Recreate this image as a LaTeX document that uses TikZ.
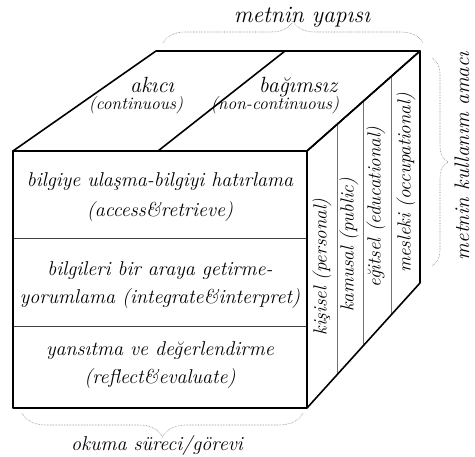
\documentclass[tikz,border=0pt]{standalone}
\usetikzlibrary{decorations.pathreplacing}
\newcommand\myfs[1]{\fontsize{#1}{#1}\selectfont}
\begin{document}
\begin{tikzpicture}[x=1pt,y=-1pt,
  edge/.style={line width=1.6pt, line join=round},
  rowline/.style={line width=0.6pt, black!75},
  strip/.style={line width=0.6pt, black!55},
  lbl/.style={font=\itshape\myfs{20}, inner sep=0pt},
  bracestyle/.style={decorate, decoration={brace, amplitude=#1}, black!55, line width=0.55pt, densely dotted},
]
\useasboundingbox (0,0) rectangle (475,457);
% corners
\coordinate (FTL) at (13,151);
\coordinate (FTR) at (307,151);
\coordinate (FBL) at (13,408);
\coordinate (FBR) at (307,408);
\coordinate (BTL) at (156,51);
\coordinate (BTR) at (420,51);
\coordinate (BBR) at (420,283);
\coordinate (DT) at (285,51);
\coordinate (DB) at (158,151);
\coordinate (R1L) at (13,238);
\coordinate (R1R) at (307,238);
\coordinate (R2L) at (13,326);
\coordinate (R2R) at (307,326);
\coordinate (S1T) at (337,125);
\coordinate (S1B) at (337,375);
\coordinate (S2T) at (363,101);
\coordinate (S2B) at (363,346);
\coordinate (S3T) at (391,77);
\coordinate (S3B) at (391,315);
% braces
\coordinate (TB1) at (163,43);
\coordinate (TB2) at (423,43);
\coordinate (RB1) at (432,58);
\coordinate (RB2) at (432,266);
\coordinate (BB1) at (303,413);
\coordinate (BB2) at (22,413);

% cube
\draw[rowline] (R1L) -- (R1R);
\draw[rowline] (R2L) -- (R2R);
\draw[strip] (S1T) -- (S1B);
\draw[strip] (S2T) -- (S2B);
\draw[strip] (S3T) -- (S3B);
\draw[edge] (FTL) -- (BTL) -- (BTR) -- (FTR) -- cycle;
\draw[edge] (FTL) rectangle (FBR);
\draw[edge] (FTR) -- (BTR) -- (BBR) -- (FBR);
\draw[edge] (DB) -- (DT);

\draw[bracestyle=22] (TB1) -- (TB2);
\draw[bracestyle=16] (RB1) -- (RB2);
\draw[bracestyle=24] (BB1) -- (BB2);

% labels
\node[lbl, font=\itshape\myfs{23.5}, anchor=base] (struct) at (302,23) {metnin yapısı};
\node[lbl, font=\itshape\myfs{20}, anchor=base] (proc) at (157,451) {okuma süreci/görevi};
\node[lbl, font=\itshape\myfs{21}, rotate=90] (use) at (462,156) {metnin kullanım amacı};

% top face
\node[lbl, font=\itshape\myfs{22}, anchor=base] (t1) at (152,93) {akıcı};
\node[lbl, font=\itshape\myfs{17.5}, anchor=base] (t1e) at (136,110) {(continuous)};
\node[lbl, font=\itshape\myfs{22}, anchor=base] (t2) at (298,93) {bağımsız};
\node[lbl, font=\itshape\myfs{17.5}, anchor=base] (t2e) at (275,110) {(non-continuous)};

% front face
\node[lbl, anchor=base] (f1a) at (160,187) {bilgiye ulaşma-bilgiyi hatırlama};
\node[lbl, anchor=base] (f1b) at (160,217) {(access\&retrieve)};
\node[lbl, anchor=base] (f2a) at (160,276) {bilgileri bir araya getirme-};
\node[lbl, anchor=base] (f2b) at (160,304) {yorumlama (integrate\&interpret)};
\node[lbl, anchor=base] (f3a) at (160,356) {yansıtma ve değerlendirme};
\node[lbl, anchor=base] (f3b) at (160,384) {(reflect\&evaluate)};

% right face
\node[lbl, font=\itshape\myfs{19}, rotate=90] (r1) at (322,267) {kişisel (personal)};
\node[lbl, font=\itshape\myfs{19}, rotate=90] (r2) at (349,245) {kamusal (public)};
\node[lbl, font=\itshape\myfs{19}, rotate=90] (r3) at (376,207) {eğitsel (educational)};
\node[lbl, font=\itshape\myfs{19}, rotate=90] (r4) at (406,183) {mesleki (occupational)};
\end{tikzpicture}
\end{document}
